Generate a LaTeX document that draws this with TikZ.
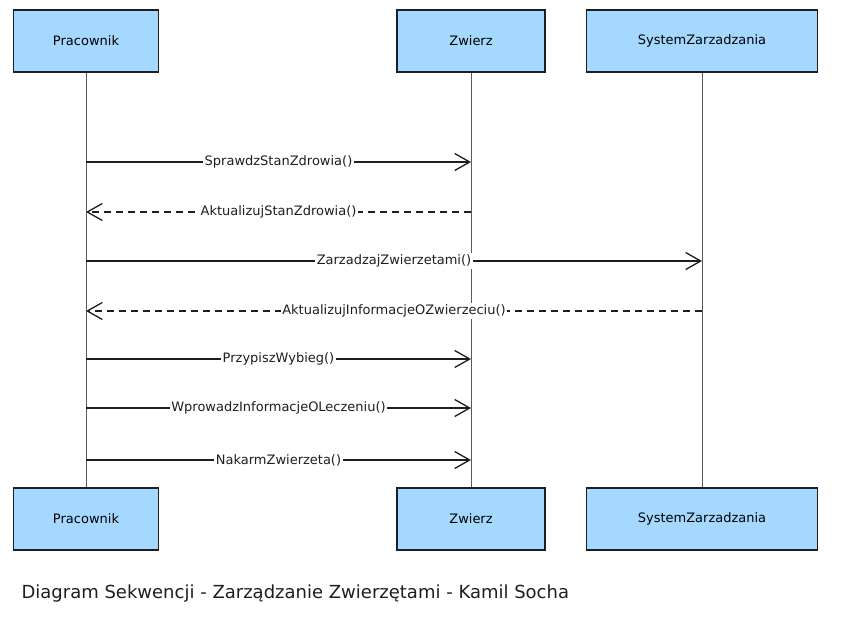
\documentclass[tikz,border=0pt]{standalone}
\usepackage{fontspec}
\usepackage{tikz}
\usepackage{xcolor}
\usetikzlibrary{arrows.meta,positioning}
\setmainfont{DejaVu Sans}
\definecolor{actorfill}{RGB}{165, 216, 255}
\definecolor{ink}{RGB}{30, 30, 30}
\definecolor{lifegray}{RGB}{90, 90, 90}
\tikzstyle{actor} = [
    rectangle,
    minimum height=62pt,
    text centered,
    draw=ink,
    line width=1.6pt,
    fill=actorfill,
    font=\fontsize{13}{15}\selectfont
]
\tikzstyle{lifeline} = [
    line width=1pt,
    draw=lifegray
]
\tikzstyle{call} = [
    line width=1.5pt,
    draw=ink,
    -{Straight Barb[length=15pt,width=17pt,line width=1.3pt]}
]
\tikzstyle{reply} = [
    call,
    line width=1.3pt,
    dash pattern=on 7pt off 5pt
]
\tikzstyle{msg} = [
    fill=white,
    inner sep=1.5pt,
    text=ink,
    font=\fontsize{13}{15}\selectfont
]

\begin{document}
\begin{tikzpicture}[x=1pt,y=-1pt]
    \useasboundingbox (0,0) rectangle (842,619);
    % actors on top
    \node[actor, minimum width=145pt] (pracTop) at (86,41) {Pracownik};
    \node[actor, minimum width=148pt] (zwierzTop) at (471,41) {Zwierz};
    \node[actor, minimum width=231pt] (systemTop) at (702,41) {SystemZarzadzania};
    % actors at the bottom
    \node[actor, minimum width=145pt] (pracBot) at (86,519) {Pracownik};
    \node[actor, minimum width=148pt] (zwierzBot) at (471,519) {Zwierz};
    \node[actor, minimum width=231pt] (systemBot) at (702,519) {SystemZarzadzania};
    % lifelines
    \draw[lifeline] (pracTop) -- (pracBot);
    \draw[lifeline] (zwierzTop) -- (zwierzBot);
    \draw[lifeline] (systemTop) -- (systemBot);
    % points on the lifelines
    \coordinate (p1) at (pracTop.south |- 0,162);
    \coordinate (z1) at (zwierzTop.south |- 0,162);
    \coordinate (p2) at (pracTop.south |- 0,212);
    \coordinate (z2) at (zwierzTop.south |- 0,212);
    \coordinate (p3) at (pracTop.south |- 0,261);
    \coordinate (s3) at (systemTop.south |- 0,261);
    \coordinate (p4) at (pracTop.south |- 0,311);
    \coordinate (s4) at (systemTop.south |- 0,311);
    \coordinate (p5) at (pracTop.south |- 0,359);
    \coordinate (z5) at (zwierzTop.south |- 0,359);
    \coordinate (p6) at (pracTop.south |- 0,408);
    \coordinate (z6) at (zwierzTop.south |- 0,408);
    \coordinate (p7) at (pracTop.south |- 0,460);
    \coordinate (z7) at (zwierzTop.south |- 0,460);
    % messages
    \draw[call] (p1) -- node[msg] {SprawdzStanZdrowia()} (z1);
    \draw[reply] (z2) -- node[msg] {AktualizujStanZdrowia()} (p2);
    \draw[call] (p3) -- node[msg] {ZarzadzajZwierzetami()} (s3);
    \draw[reply] (s4) -- node[msg] {AktualizujInformacjeOZwierzeciu()} (p4);
    \draw[call] (p5) -- node[msg] {PrzypiszWybieg()} (z5);
    \draw[call] (p6) -- node[msg] {WprowadzInformacjeOLeczeniu()} (z6);
    \draw[call] (p7) -- node[msg] {NakarmZwierzeta()} (z7);
    % caption
    \node[anchor=west, text=ink, font=\fontsize{18}{21}\selectfont] (caption) at (18,594)
        {Diagram Sekwencji - Zarządzanie Zwierzętami - Kamil Socha};
\end{tikzpicture}
\end{document}
